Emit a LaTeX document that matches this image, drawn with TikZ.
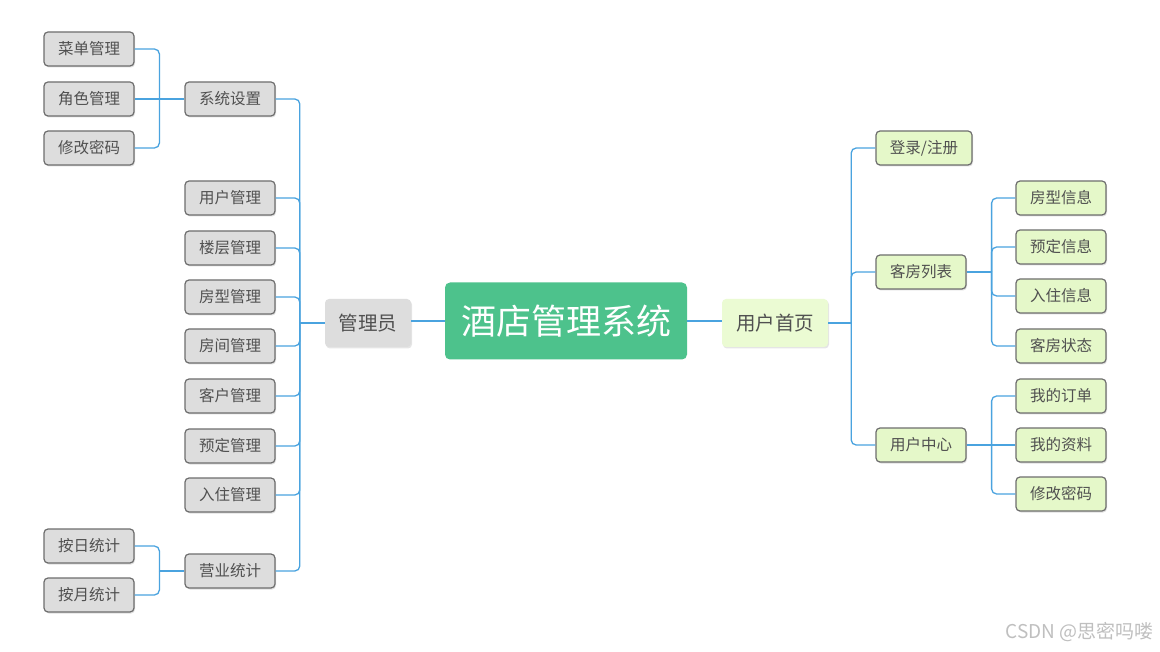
\documentclass[tikz,border=0pt]{standalone}
\usepackage{fontspec}
\setmainfont{Noto Sans CJK SC}
\usetikzlibrary{positioning,shadows}
\definecolor{linkblue}{HTML}{4AA3DF}
\definecolor{rootgreen}{HTML}{4DC28C}
\definecolor{leafgreen}{HTML}{E5F8C9}
\definecolor{headgreen}{HTML}{EBFBD3}
\definecolor{boxgrey}{HTML}{DDDDDD}
\definecolor{edgegrey}{HTML}{6E6E6E}
\definecolor{txtgrey}{HTML}{505050}

\begin{document}
\begin{tikzpicture}[
  x=1pt, y=-1pt,
  font=\fontsize{15.5}{18}\selectfont,
  box/.style={draw=edgegrey, line width=1.2pt, rounded corners=4pt, minimum width=90pt,
    minimum height=34pt, inner sep=2pt, text=txtgrey,
    drop shadow={shadow xshift=1pt, shadow yshift=-1.5pt, opacity=0.25}},
  adm/.style={box, fill=boxgrey},
  usr/.style={box, fill=leafgreen},
  head/.style={rounded corners=4pt, minimum height=48pt, inner sep=2pt, text=txtgrey,
    font=\fontsize{19.5}{22}\selectfont,
    drop shadow={shadow xshift=1pt, shadow yshift=-1.5pt, opacity=0.2}},
  link/.style={draw=linkblue, line width=1.3pt, rounded corners=5pt},
  trunk/.style={draw=linkblue, line width=2.6pt}
]
  \useasboundingbox[fill=white] (0,0) rectangle (1160,652);

  % centre
  \node[fill=rootgreen, rounded corners=5pt, minimum width=242pt, minimum height=77pt,
    text=white, font=\fontsize{35}{40}\selectfont] (root) at (566,321) {酒店管理系统};
  \node[head, fill=boxgrey, minimum width=86pt] (admin) at (368,323) {管理员};
  \node[head, fill=headgreen, minimum width=106pt] (home) at (775,323) {用户首页};
  \draw[trunk] (admin.east |- root) -- (root.west);
  \draw[trunk] (root.east) -- (home.west |- root);

  % admin side
  \node[adm] (sys) at (230,99) {系统设置};
  \node[adm] (menu) at (89,49) {菜单管理};
  \node[adm] (role) at (89,99) {角色管理};
  \node[adm] (pwda) at (89,148) {修改密码};
  \node[adm] (user) at (230,198) {用户管理};
  \node[adm] (floor) at (230,248) {楼层管理};
  \node[adm] (rtype) at (230,297) {房型管理};
  \node[adm] (room) at (230,346) {房间管理};
  \node[adm] (cust) at (230,396) {客户管理};
  \node[adm] (book) at (230,446) {预定管理};
  \node[adm] (stay) at (230,495) {入住管理};
  \node[adm] (stat) at (230,571) {营业统计};
  \node[adm] (day) at (89,546) {按日统计};
  \node[adm] (month) at (89,595) {按月统计};

  \coordinate (adminfork) at ([xshift=-25pt]admin.west);
  \coordinate (sysfork) at ([xshift=-25pt]sys.west);
  \coordinate (statfork) at ([xshift=-25pt]stat.west);
  \draw[link] (admin.west) -- (adminfork);
  \draw[link] (sys.west) -- (role.east);
  \draw[link] (stat.west) -- (statfork);
  \foreach \k in {sys,user,floor,rtype,room,cust,book,stay,stat}
    \draw[link] (adminfork) |- (\k.east);
  \foreach \k in {menu,pwda}
    \draw[link] (sysfork) |- (\k.east);
  \foreach \k in {day,month}
    \draw[link] (statfork) |- (\k.east);

  % user side
  \node[usr, minimum width=96pt] (login) at (924,148) {登录/注册};
  \node[usr] (rooms) at (921,272) {客房列表};
  \node[usr] (center) at (921,445) {用户中心};
  \node[usr] (rinfo) at (1061,198) {房型信息};
  \node[usr] (binfo) at (1061,247) {预定信息};
  \node[usr] (sinfo) at (1061,296) {入住信息};
  \node[usr] (rstate) at (1061,346) {客房状态};
  \node[usr] (order) at (1061,396) {我的订单};
  \node[usr] (prof) at (1061,445) {我的资料};
  \node[usr] (pwdu) at (1061,494) {修改密码};

  \coordinate (homefork) at ([xshift=23pt]home.east);
  \coordinate (roomsfork) at ([xshift=25pt]rooms.east);
  \coordinate (centerfork) at ([xshift=25pt]center.east);
  \draw[link] (home.east) -- (homefork);
  \draw[link] (rooms.east) -- (roomsfork);
  \draw[link] (center.east) -- (prof.west);
  \foreach \k in {login,rooms,center}
    \draw[link] (homefork) |- (\k.west);
  \foreach \k in {rinfo,binfo,sinfo,rstate}
    \draw[link] (roomsfork) |- (\k.west);
  \foreach \k in {order,pwdu}
    \draw[link] (centerfork) |- (\k.west);

  \node[text=black!25, font=\fontsize{19}{22}\selectfont, anchor=east] (mark) at (1157,632) {CSDN @思密吗喽};
\end{tikzpicture}
\end{document}
